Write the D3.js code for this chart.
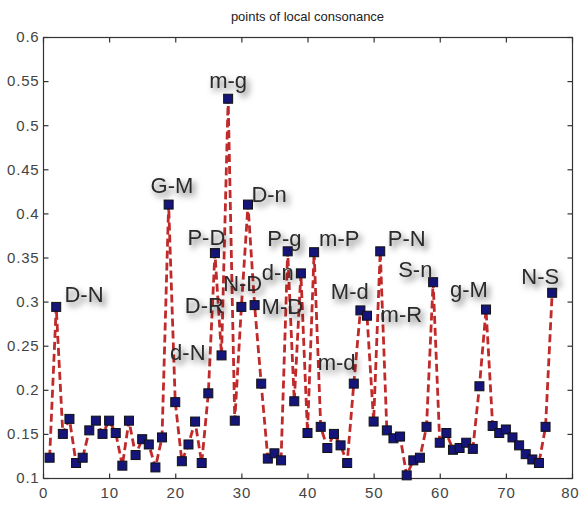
<!DOCTYPE html>
<html><head><meta charset="utf-8">
<script src="https://cdn.jsdelivr.net/npm/d3@7"></script>
<style>
html,body{margin:0;padding:0;background:#fff;}
svg{display:block;}
</style></head>
<body>
<svg id="chart" width="579" height="509"></svg>
<script>
const title = "points of local consonance";
const xValues = d3.range(1, 78);
const yValues = [
 0.123,0.294,0.150,0.167,0.117,0.123,0.154,0.165,0.150,0.165,
 0.151,0.114,0.165,0.126,0.144,0.138,0.112,0.146,0.410,0.186,
 0.119,0.138,0.164,0.117,0.196,0.355,0.239,0.530,0.165,0.294,
 0.410,0.296,0.207,0.122,0.128,0.120,0.357,0.187,0.332,0.151,
 0.356,0.158,0.134,0.150,0.137,0.117,0.207,0.290,0.284,0.164,
 0.357,0.154,0.145,0.147,0.103,0.120,0.123,0.158,0.322,0.140,
 0.151,0.132,0.134,0.140,0.133,0.204,0.291,0.159,0.151,0.155,
 0.146,0.137,0.127,0.121,0.117,0.158,0.310];
const xTicks = [0,10,20,30,40,50,60,70,80];
const yTicks = [0.1,0.15,0.2,0.25,0.3,0.35,0.4,0.45,0.5,0.55,0.6];
const labelTexts = ["D-N","G-M","m-g","D-n","P-D","P-g","m-P","P-N","S-n","M-d","m-R","m-d","g-M","N-S","d-N","D-R","N-D","d-n","M-D"];
const labelX =     [6.2, 19.5, 28.0, 34.2, 24.7, 36.5, 44.8, 55.0, 56.3, 46.4, 54.2, 44.4, 64.4, 75.2, 21.9, 24.4, 30.2, 35.5, 36.2];
const labelY =     [0.3075,0.432,0.551,0.421,0.373,0.372,0.371,0.371,0.336,0.311,0.285,0.231,0.314,0.328,0.242,0.296,0.320,0.333,0.295];

const svg = d3.select("#chart");
const m = {left:43, right:572, top:37, bottom:478};
const x = d3.scaleLinear().domain([0,80]).range([m.left, m.right]);
const y = d3.scaleLinear().domain([0.1,0.6]).range([m.bottom, m.top]);

const defs = svg.append("defs");
const f = defs.append("filter").attr("id","sh").attr("x","-30%").attr("y","-30%").attr("width","170%").attr("height","180%");
f.append("feDropShadow").attr("dx",3).attr("dy",4).attr("stdDeviation",3).attr("flood-color","#000").attr("flood-opacity",0.6);

// title
svg.append("text").attr("x",(m.left+m.right)/2).attr("y",21).attr("text-anchor","middle")
  .attr("font-family","Liberation Sans, Arial, sans-serif").attr("font-size",13).attr("fill","#222").text(title);

// box
svg.append("rect").attr("x",m.left+0.5).attr("y",m.top+0.5).attr("width",m.right-m.left).attr("height",m.bottom-m.top)
  .attr("fill","none").attr("stroke","#333").attr("stroke-width",1.2);

const tl = 5;
const axB = svg.append("g").attr("transform",`translate(0,${m.bottom+0.5})`)
  .call(d3.axisBottom(x).tickValues(xTicks).tickSize(-tl).tickPadding(9).tickFormat(d3.format("d")));
const axT = svg.append("g").attr("transform",`translate(0,${m.top+0.5})`)
  .call(d3.axisTop(x).tickValues(xTicks).tickSize(-tl).tickFormat(""));
const axL = svg.append("g").attr("transform",`translate(${m.left+0.5},0)`)
  .call(d3.axisLeft(y).tickValues(yTicks).tickSize(-tl).tickPadding(4).tickFormat(d => d3.format("")(+d.toFixed(2))));
const axR = svg.append("g").attr("transform",`translate(${m.right+0.5},0)`)
  .call(d3.axisRight(y).tickValues(yTicks).tickSize(-tl).tickFormat(""));
[axB,axT,axL,axR].forEach(a=>{
  a.select(".domain").remove();
  a.selectAll(".tick line").attr("stroke","#333").attr("stroke-width",1.2);
  a.selectAll("text").attr("font-family","Liberation Sans, Arial, sans-serif").attr("font-size",15)
    .attr("letter-spacing","0.8").attr("fill","#444");
});
// keep the last x tick label inside the page
axB.selectAll(".tick text").filter(d => d === 80).attr("text-anchor","end").attr("dx", 7);

// line
const line = d3.line().x((d,i)=>x(xValues[i])).y(d=>y(d));
svg.append("path").datum(yValues).attr("d",line).attr("fill","none")
  .attr("stroke","#c02a2a").attr("stroke-width",2.8).attr("stroke-dasharray","8,4");

// markers
const ms = 9;
svg.append("g").selectAll("rect").data(yValues).join("rect")
  .attr("x",(d,i)=>x(xValues[i])-ms/2).attr("y",d=>y(d)-ms/2)
  .attr("width",ms).attr("height",ms)
  .attr("fill","#14147a").attr("stroke","#111").attr("stroke-width",1);

// labels
svg.append("g").selectAll("text").data(labelTexts).join("text")
  .attr("x",(d,i)=>x(labelX[i])).attr("y",(d,i)=>y(labelY[i]))
  .attr("text-anchor","middle").attr("dominant-baseline","central")
  .attr("font-family","Liberation Sans, Arial, sans-serif").attr("font-size",22)
  .attr("fill","#2a2a2a").attr("filter","url(#sh)").text(d=>d);
</script>
</body></html>
